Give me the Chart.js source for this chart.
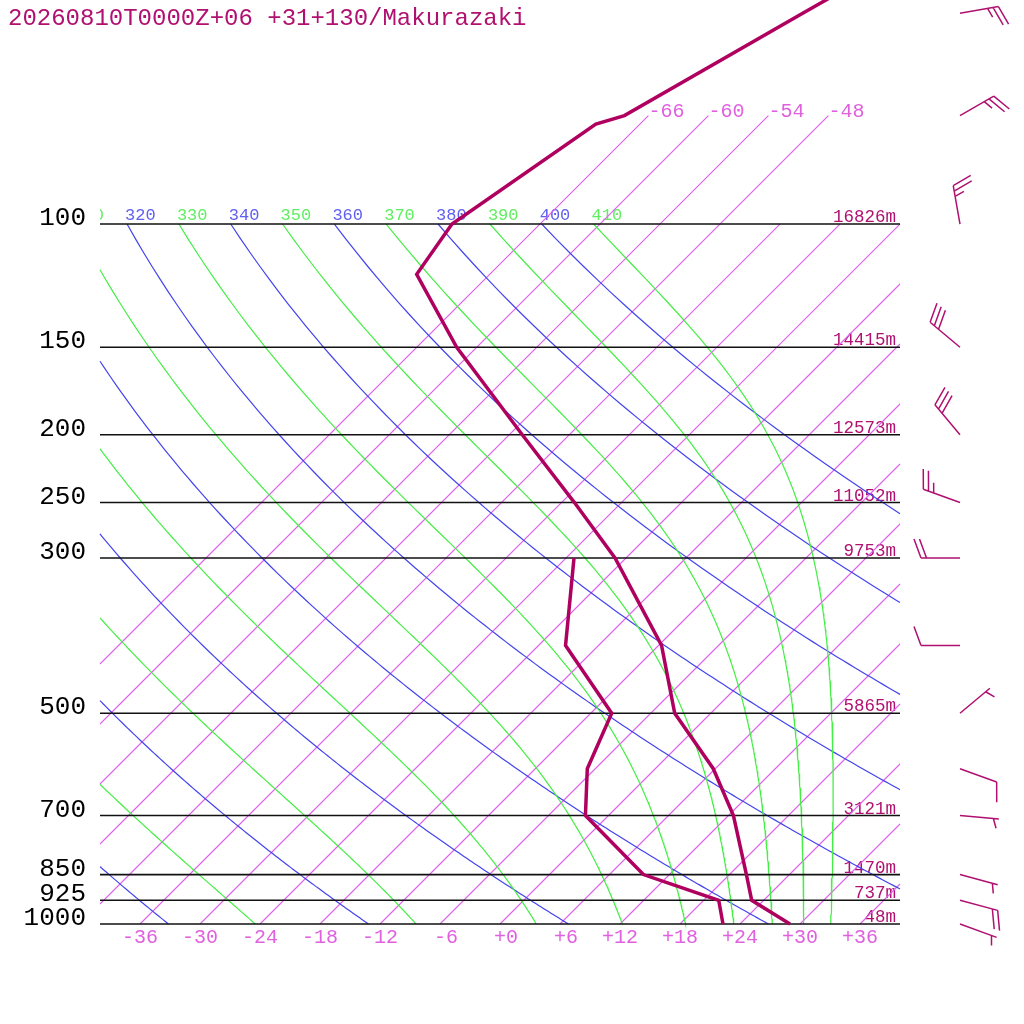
<!DOCTYPE html>
<html>
<head>
<meta charset="utf-8">
<title>Makurazaki sounding</title>
<script src="https://cdn.jsdelivr.net/npm/chart.js@4.4.1/dist/chart.umd.min.js"></script>
<style>
  html, body { margin: 0; padding: 0; background: #fff; }
  canvas { display: block; }
</style>
</head>
<body>
<canvas id="skewt" width="1024" height="1024"></canvas>
<script>
const title = '20260810T0000Z+06 +31+130/Makurazaki';

// sounding (hPa, deg C)
const tempP = [1000, 925, 850, 700, 600, 500, 400, 300, 250, 200, 150, 118, 100, 72, 70, 50, 45];
const tempC = [29.0, 22.8, 19.7, 12.5, 5.8, -3.6, -11.7, -25.1, -34.7, -46.7, -62.0, -73.3, -74.8, -70.4, -68.4, -60.8, -58.4];
const dewP = [1000, 925, 850, 700, 600, 500, 400, 300];
const dewC = [22.3, 19.5, 9.4, -2.3, -6.8, -9.9, -21.3, -29.2];

// winds (direction from, knots)
const windP = [1000, 925, 850, 700, 600, 500, 400, 300, 250, 200, 150, 100, 70, 50];
const windDir = [110, 105, 105, 95, 110, 50, 270, 270, 290, 320, 310, 350, 60, 80];
const windKt = [5, 20, 5, 5, 10, 5, 10, 20, 25, 30, 30, 25, 25, 25];

// background lines and labels
const isobars = [1000, 925, 850, 700, 500, 300, 250, 200, 150, 100];
const heights = ['48m', '737m', '1470m', '3121m', '5865m', '9753m', '11052m', '12573m', '14415m', '16826m'];
const tempTicks = [-36, -30, -24, -18, -12, -6, 0, 6, 12, 18, 24, 30, 36];
const isotherms = [-66, -60, -54, -48, -42, -36, -30, -24, -18, -12, -6, 0, 6, 12, 18, 24, 30, 36];
const isothermsHigh = [-66, -60, -54, -48];
const dryTheta = [240, 260, 280, 300, 320, 340, 360, 380, 400];
const moistTheta = [250, 270, 290, 310, 330, 350, 370, 390, 410];

// diagram geometry: 10 px per degree, 45 degree skew, 304 px per e-fold of pressure
const SKEW = 30.4;
const X_LEFT = -40, X_RIGHT = 40;
const P_TOP = 100, P_BOTTOM = 1000, P_HIGH = 70;
const X_MIN = -50, X_MAX = 52.4;
const Y_MIN = 1000 / Math.exp(924 / 304);
const Y_MAX = 1000 * Math.exp(100 / 304);
const BARB_X = 46;

const RD = 287.04, CPD = 1005.7, LV = 2.501e6, EPS = 0.622, KAPPA = RD / CPD;

const COL_ISO = 'rgb(222, 96, 236)';
const COL_DRY = 'rgb(68, 68, 238)';
const COL_MOIST = 'rgb(68, 238, 68)';
const COL_MARK = 'rgb(176, 16, 112)';
const COL_PROFILE = 'rgb(176, 0, 95)';

function skewX(t, p) {
    return t + SKEW * Math.log(1000 / p);
}

// clip a polyline of {x, y(p)} points to the plot's left/right edges
function clipX(pts) {
    const out = [];
    const lerp = (a, b, f) => ({
        x: a.x + (b.x - a.x) * f,
        y: Math.exp(Math.log(a.y) + (Math.log(b.y) - Math.log(a.y)) * f)
    });
    for (let i = 0; i < pts.length - 1; i++) {
        const a = pts[i], b = pts[i + 1];
        let t0 = 0, t1 = 1;
        const dx = b.x - a.x;
        if (dx === 0) {
            if (a.x < X_LEFT || a.x > X_RIGHT) continue;
        } else {
            let ta = (X_LEFT - a.x) / dx, tb = (X_RIGHT - a.x) / dx;
            if (ta > tb) [ta, tb] = [tb, ta];
            t0 = Math.max(t0, ta);
            t1 = Math.min(t1, tb);
            if (t0 >= t1) continue;
        }
        const s = lerp(a, b, t0), e = lerp(a, b, t1);
        if (!out.length) out.push(s);
        out.push(e);
    }
    return out;
}

function dryAdiabat(theta) {
    const pts = [];
    for (let p = P_TOP; p <= P_BOTTOM; p += 5) {
        const t = theta * Math.pow(p / 1000, KAPPA) - 273.15;
        pts.push({ x: skewX(t, p), y: p });
    }
    return clipX(pts);
}

function satMix(p, tk) {
    const es = 6.112 * Math.exp(17.67 * (tk - 273.15) / (tk - 29.65));
    return EPS * es / (p - es);
}

function moistRate(p, tk) {
    const rs = satMix(p, tk);
    return (RD * tk + LV * rs) / (CPD + LV * LV * rs * EPS / (RD * tk * tk)) / p;
}

// pseudo-adiabat through theta at 100 hPa, integrated down to 1000 hPa
function moistAdiabat(theta) {
    const pts = [];
    const dp = 2.5;
    let tk = theta * Math.pow(P_TOP / 1000, KAPPA);
    for (let i = 0; i <= 360; i++) {
        const p = P_TOP + i * dp;
        if (i % 2 === 0) pts.push({ x: skewX(tk - 273.15, p), y: p });
        const k1 = moistRate(p, tk);
        const k2 = moistRate(p + dp / 2, tk + k1 * dp / 2);
        const k3 = moistRate(p + dp / 2, tk + k2 * dp / 2);
        const k4 = moistRate(p + dp, tk + k3 * dp);
        tk += dp * (k1 + 2 * k2 + 2 * k3 + k4) / 6;
    }
    return clipX(pts);
}

function isotherm(t) {
    const top = isothermsHigh.includes(t) ? P_HIGH : P_TOP;
    const pStart = t >= X_LEFT ? P_BOTTOM : 1000 / Math.exp((X_LEFT - t) / SKEW);
    const pRight = 1000 / Math.exp((X_RIGHT - t) / SKEW);
    const pEnd = Math.max(top, pRight);
    return [{ x: skewX(t, pStart), y: pStart }, { x: skewX(t, pEnd), y: pEnd }];
}

function lineSet(data, color, width, order) {
    return {
        data: data,
        showLine: true,
        borderColor: color,
        backgroundColor: color,
        borderWidth: width,
        pointRadius: 0,
        pointHoverRadius: 0,
        fill: false,
        tension: 0,
        order: order
    };
}

const datasets = [];
datasets.push(lineSet(tempP.map((p, i) => ({ x: skewX(tempC[i], p), y: p })), COL_PROFILE, 3.5, 0));
datasets.push(lineSet(dewP.map((p, i) => ({ x: skewX(dewC[i], p), y: p })), COL_PROFILE, 3.5, 0));
isobars.forEach(p => datasets.push(lineSet([{ x: X_LEFT, y: p }, { x: X_RIGHT, y: p }], '#111', 1.6, 1)));
moistTheta.forEach(th => datasets.push(lineSet(moistAdiabat(th), COL_MOIST, 1.2, 2)));
dryTheta.forEach(th => datasets.push(lineSet(dryAdiabat(th), COL_DRY, 1.2, 3)));
isotherms.forEach(t => datasets.push(lineSet(isotherm(t), COL_ISO, 1.1, 4)));

function drawBarb(ctx, x0, y0, dir, kt) {
    const a = dir * Math.PI / 180;
    const ux = Math.sin(a), uy = -Math.cos(a);
    const px = -uy, py = ux;
    const len = 39, step = 5.5;
    ctx.beginPath();
    ctx.moveTo(x0, y0);
    ctx.lineTo(x0 + ux * len, y0 + uy * len);
    const full = Math.floor(kt / 10);
    const half = kt % 10 >= 5;
    let d = full === 0 ? len - step : len;
    const feather = (s) => {
        const bx = x0 + ux * d, by = y0 + uy * d;
        ctx.moveTo(bx, by);
        ctx.lineTo(bx + s * (19 * px + 7 * ux), by + s * (19 * py + 7 * uy));
        d -= step;
    };
    for (let i = 0; i < full; i++) feather(1);
    if (half) feather(0.5);
    ctx.stroke();
}

const labelsPlugin = {
    id: 'skewtLabels',
    beforeDatasetsDraw(chart) {
        const ctx = chart.ctx;
        const xs = chart.scales.x, ys = chart.scales.y;
        const left = xs.getPixelForValue(X_LEFT), right = xs.getPixelForValue(X_RIGHT);
        ctx.save();

        // pressure labels
        ctx.font = '26px "Liberation Mono", monospace';
        ctx.fillStyle = '#000';
        ctx.textAlign = 'right';
        ctx.textBaseline = 'alphabetic';
        isobars.forEach(p => ctx.fillText(String(p), left - 14, ys.getPixelForValue(p) + 1));

        // heights
        ctx.font = '17.5px "Liberation Mono", monospace';
        ctx.fillStyle = COL_MARK;
        isobars.forEach((p, i) => ctx.fillText(heights[i], right - 4, ys.getPixelForValue(p) - 2));

        // temperature ticks along the bottom
        ctx.font = '20px "Liberation Mono", monospace';
        ctx.fillStyle = '#e060e0';
        ctx.textAlign = 'center';
        tempTicks.forEach(t => {
            const s = (t > 0 ? '+' + t : t === 0 ? '+0' : String(t)).padStart(3, ' ');
            ctx.fillText(s, xs.getPixelForValue(t), ys.getPixelForValue(P_BOTTOM) + 19);
        });

        // isotherm labels at the top
        ctx.textAlign = 'left';
        isothermsHigh.forEach(t => {
            ctx.fillText(String(t), xs.getPixelForValue(skewX(t, P_HIGH)), ys.getPixelForValue(P_HIGH) + 1);
        });

        // theta labels along 100 hPa
        ctx.beginPath();
        ctx.rect(left, 0, right - left, chart.height);
        ctx.clip();
        ctx.font = '17px "Liberation Mono", monospace';
        const yTop = ys.getPixelForValue(P_TOP) - 4;
        const topX = th => xs.getPixelForValue(skewX(th * Math.pow(P_TOP / 1000, KAPPA) - 273.15, P_TOP));
        ctx.fillStyle = '#6060f0';
        dryTheta.forEach(th => ctx.fillText(String(th), topX(th) - 2, yTop));
        ctx.fillStyle = '#60ee60';
        moistTheta.forEach(th => ctx.fillText(String(th), topX(th) - 2, yTop));
        ctx.restore();
    },
    afterDatasetsDraw(chart) {
        const ctx = chart.ctx;
        const xs = chart.scales.x, ys = chart.scales.y;
        ctx.save();
        ctx.font = '24px "Liberation Mono", monospace';
        ctx.fillStyle = COL_MARK;
        ctx.textAlign = 'left';
        ctx.fillText(title, 8, 25);

        ctx.strokeStyle = COL_MARK;
        ctx.lineWidth = 1.5;
        const bx = xs.getPixelForValue(BARB_X);
        windP.forEach((p, i) => drawBarb(ctx, bx, ys.getPixelForValue(p), windDir[i], windKt[i]));
        ctx.restore();
    }
};

new Chart(document.getElementById('skewt'), {
    type: 'scatter',
    data: { datasets: datasets },
    options: {
        responsive: false,
        devicePixelRatio: 1,
        animation: false,
        events: [],
        layout: { padding: 0 },
        plugins: {
            legend: { display: false },
            tooltip: { enabled: false },
            colors: { enabled: false }
        },
        scales: {
            x: { type: 'linear', min: X_MIN, max: X_MAX, bounds: 'data', display: false },
            y: { type: 'logarithmic', reverse: true, min: Y_MIN, max: Y_MAX, bounds: 'data', display: false }
        }
    },
    plugins: [labelsPlugin]
});
</script>
</body>
</html>
